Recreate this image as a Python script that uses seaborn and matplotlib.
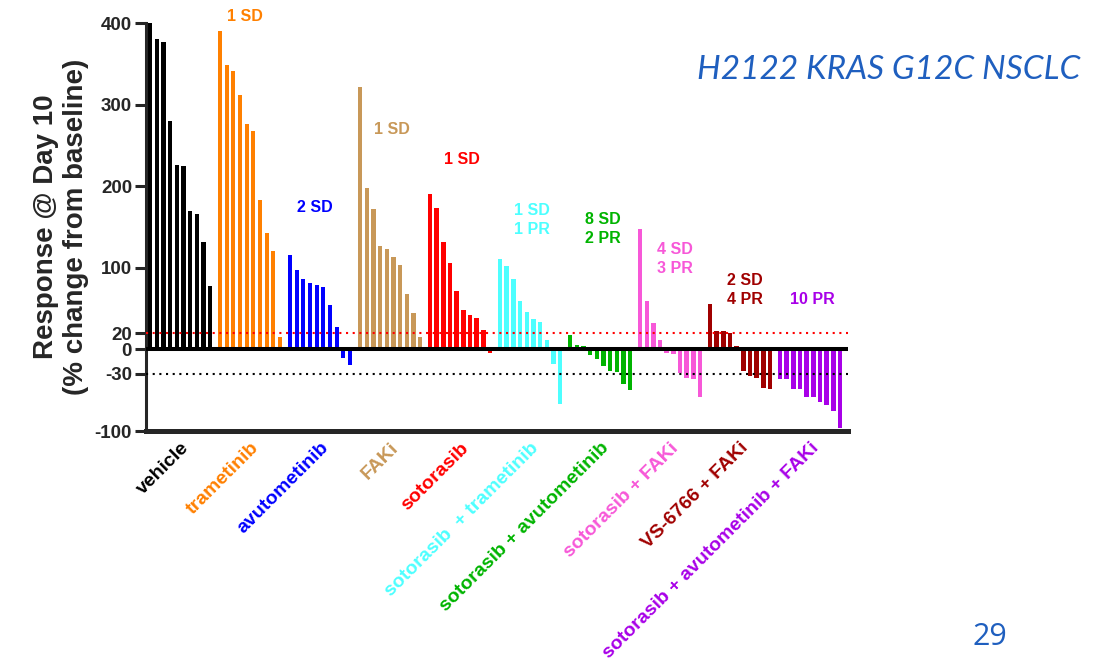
import matplotlib
matplotlib.use("Agg")
import matplotlib.pyplot as plt
from matplotlib.transforms import ScaledTranslation
import pandas as pd
import seaborn as sns

# Treatment arms, in plotting order
groups = ["vehicle", "trametinib", "avutometinib", "FAKi", "sotorasib",
          "sotorasib  + trametinib", "sotorasib + avutometinib",
          "sotorasib + FAKi", "VS-6766 + FAKi",
          "sotorasib + avutometinib + FAKi"]

# Tumour response at day 10 (% change from baseline), one value per animal
vehicle = [400, 381, 377, 280, 226, 225, 170, 166, 132, 78]
trametinib = [390, 348, 341, 312, 276, 268, 183, 143, 121, 15]
avutometinib = [116, 97, 86, 81, 79, 76, 55, 27, -11, -19]
faki = [321, 198, 172, 127, 123, 113, 104, 68, 44, 15]
sotorasib = [190, 173, 132, 106, 72, 48, 42, 38, 24, -4]
soto_trametinib = [111, 102, 86, 59, 46, 37, 34, 12, -18, -67]
soto_avutometinib = [18, 5, 4, -7, -12, -20, -26, -28, -42, -50]
soto_faki = [148, 59, 32, 12, -4, -6, -29, -35, -36, -58]
vs6766_faki = [56, 23, 23, 20, 4, -27, -33, -35, -47, -49]
soto_avuto_faki = [-36, -36, -48, -48, -58, -58, -64, -68, -76, -96]

responses = [vehicle, trametinib, avutometinib, faki, sotorasib,
             soto_trametinib, soto_avutometinib, soto_faki, vs6766_faki,
             soto_avuto_faki]

# Best-response summaries per arm
summaries = [None, "1 SD", "2 SD", "1 SD", "1 SD", "1 SD\n1 PR",
             "8 SD\n2 PR", "4 SD\n3 PR", "2 SD\n4 PR", "10 PR"]

colors = ["#000000", "#FF8000", "#0000FF", "#C89858", "#FF0000",
          "#4DFFFF", "#00B400", "#F758D8", "#A00000", "#A800E8"]

# Summary label placement (x in bar slots, y in % units)
summary_xy = [None, (14.25, 408), (24.75, 174), (36.3, 270), (46.8, 233),
              (57.3, 159), (67.95, 148), (78.75, 111), (89.25, 73),
              (99.3, 61)]

GROUP_STEP = 10.5  # slots per arm, including the gap between arms

rows = []
for g, (name, vals) in enumerate(zip(groups, responses)):
    for i, v in enumerate(vals):
        rows.append({"pos": g * GROUP_STEP + i, "response": v, "group": name})
df = pd.DataFrame(rows)

sns.set_style("ticks")
plt.rcParams["font.family"] = ["Liberation Sans", "DejaVu Sans"]
plt.rcParams["axes.unicode_minus"] = False

fig = plt.figure(figsize=(10.94, 6.67), dpi=100)
ax = fig.add_axes([146 / 1094, 1 - 431 / 667, 702 / 1094, 408 / 667])

sns.barplot(data=df, x="pos", y="response", hue="group", hue_order=groups,
            palette=colors, native_scale=True, dodge=False, width=0.65,
            saturation=1, errorbar=None, linewidth=0, legend=False, ax=ax)

ax.set_xlim(-0.6, 104.7)
ax.set_ylim(-100, 400)

# Reference lines: zero, +20 % and -30 % thresholds
ax.axhline(0, color="black", lw=2.9, zorder=6)
ax.axhline(20, color="#FF0000", lw=1.5, ls=(0, (1, 2.2)), zorder=5)
ax.axhline(-30, color="black", lw=1.5, ls=(0, (1, 2.2)), zorder=5)

for side in ("top", "right"):
    ax.spines[side].set_visible(False)
ax.spines["left"].set_linewidth(2.2)
ax.spines["bottom"].set_linewidth(3.6)

ax.set_yticks([-100, -30, 0, 20, 100, 200, 300, 400])
ax.tick_params(axis="y", length=8, width=2.2, pad=2, labelsize=13.5)
for lbl in ax.get_yticklabels():
    lbl.set_fontweight("bold")

centers = [g * GROUP_STEP + 4.5 for g in range(len(groups))]
ax.set_xticks(centers)
ax.set_xticklabels(groups, rotation=45, ha="right", rotation_mode="anchor",
                   fontsize=14, fontweight="bold")
ax.tick_params(axis="x", length=0, pad=6)
for lbl, c in zip(ax.get_xticklabels(), colors):
    lbl.set_color(c)

ax.set_xlabel("")
ax.set_ylabel("Response @ Day 10\n(% change from baseline)", fontsize=20,
              fontweight="bold", labelpad=4)

for text, xy, c in zip(summaries, summary_xy, colors):
    if text is None:
        continue
    ax.text(xy[0], xy[1], text, color=c, fontsize=11.5, fontweight="bold",
            ha="center", va="center", linespacing=1.35, zorder=7)

fig.text(1080 / 1094, 1 - 70 / 667, "H2122 KRAS G12C NSCLC", color="#1F5FBF",
         fontsize=24, style="italic", family=["Lato", "DejaVu Sans"],
         ha="right", va="center")
fig.text(990 / 1094, 1 - 637 / 667, "29", color="#1F5FBF", fontsize=22,
         style="normal", family=["Open Sans", "DejaVu Sans"],
         ha="center", va="center")

fig.savefig("out.png", dpi=100)
